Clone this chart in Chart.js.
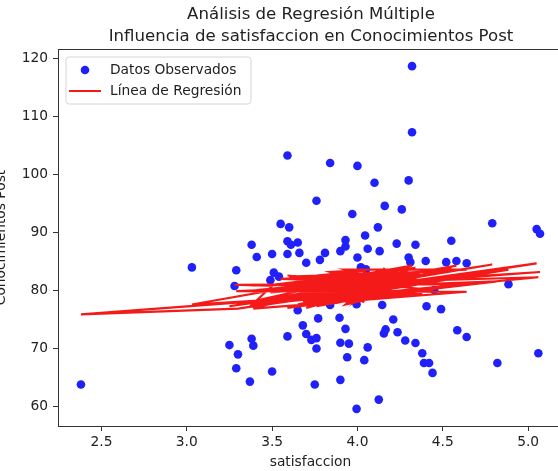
<!DOCTYPE html>
<html><head><meta charset="utf-8">
<script src="https://cdn.jsdelivr.net/npm/chart.js@4.4.1/dist/chart.umd.min.js"></script>
<style>
html,body{margin:0;padding:0;background:#fff;overflow:hidden;}
#wrap{position:relative;width:558px;height:471px;overflow:hidden;background:#fff;}
#c{position:absolute;left:-7px;top:0;}
</style></head><body>
<div id="wrap"><canvas id="c" width="636" height="471"></canvas></div>
<script>
// Data (in original data order)
const satisfaccion = [3.59,4.44,3.03,4.32,3.29,4.58,3.25,5.05,3.30,2.38,4.05,4.885,3.37,4.30,3.39,4.64,3.29,4.82,3.65,4.45,3.54,5.06,3.38,4.42,3.28,3.50,3.38,4.79,3.51,4.52,3.41,5.07,3.49,4.34,3.50,4.585,3.55,4.64,3.93,4.34,3.76,4.55,3.59,4.49,3.75,4.405,3.70,4.32,3.76,4.40,3.68,4.39,3.73,4.38,3.61,4.31,3.60,4.30,3.70,4.155,3.66,4.125,3.65,4.26,3.59,4.145,3.59,4.23,3.995,4.16,3.95,4.28,3.93,4.13,3.90,4.21,3.84,4.00,3.77,4.235,3.90,4.18,3.76,4.045,3.94,4.12,3.81,4.165,3.84,4.10,3.78,4.04,3.895,4.06,3.93,4.06,3.87,3.995,3.90,3.97,4.00,4.02];
const conocimientosPost = [103.3,65.8,84.0,118.7,66.6,85.1,70.6,90.6,69.0,63.8,83.65,81.1,64.3,99.0,70.5,72.0,83.5,67.5,76.6,80.1,82.4,69.2,87.9,67.5,80.8,66.05,71.7,91.6,83.1,84.9,85.8,89.8,81.8,87.9,86.3,73.15,91.5,84.7,88.7,70.95,71.8,88.6,72.1,76.8,63.8,77.3,72.5,107.3,70.0,85.1,74.0,67.5,71.5,69.2,87.9,84.9,90.9,85.7,84.8,72.6,86.5,61.2,88.3,94.0,86.3,77.5,88.5,88.1,59.6,94.6,70.85,71.4,73.4,86.8,64.6,75.0,102.0,101.5,75.2,72.8,71.0,82.95,95.5,89.5,68.5,90.9,86.5,73.3,77.5,98.6,85.3,68.0,75.3,87.2,87.6,70.2,82.6,77.65,86.8,93.2,85.7,84.0];
const prediccion = [82.6,80.1,77.6,84.3,77.5,84.3,77.3,84.7,76.9,75.9,79.6,83.6,77.2,84.2,76.9,79.8,79.9,81.6,77.6,83.2,78.0,82.3,80.9,81.2,81.0,80.8,77.5,84.5,78.6,83.2,80.1,83.2,79.7,83.9,81.0,81.1,82.0,83.6,83.6,80.3,77.3,84.0,77.0,80.6,77.6,82.8,77.0,83.8,77.9,82.0,78.2,79.9,78.7,79.4,80.6,83.1,82.4,82.1,79.2,80.6,81.4,79.0,82.1,82.9,80.3,82.0,81.3,83.6,78.4,83.9,77.8,79.9,77.6,82.8,78.0,79.9,83.2,83.5,79.2,79.0,79.0,81.9,82.6,83.4,79.3,82.6,80.9,79.5,81.4,83.0,81.8,78.0,80.5,81.0,81.0,78.8,81.2,79.7,82.8,82.8,82.2,81.6];
const xTicks = [2.5, 3.0, 3.5, 4.0, 4.5, 5.0];
const yTicks = [60, 70, 80, 90, 100, 110, 120];
const titulo = ['Análisis de Regresión Múltiple', 'Influencia de satisfaccion en Conocimientos Post'];
const etiquetaX = 'satisfaccion';
const etiquetaY = 'Conocimientos Post';
const nombres = ['Datos Observados', 'Línea de Regresión'];

const FONT = "'DejaVu Sans', sans-serif";
Chart.defaults.font.family = FONT;
const BLUE = 'rgb(32,32,250)';
const RED = 'rgb(244,26,26)';
const TXT = '#222';

const puntos = satisfaccion.map((x, i) => ({x: x, y: conocimientosPost[i]}));
const linea = satisfaccion.map((x, i) => ({x: x, y: prediccion[i]}));

const xMin = Math.min(...satisfaccion), xMax = Math.max(...satisfaccion);
const yMin = Math.min(...conocimientosPost), yMax = Math.max(...conocimientosPost);
const xm = (xMax - xMin) * 0.05, ym = (yMax - yMin) * 0.05;

const spines = {
  id: 'spines',
  afterDraw(chart) {
    const ctx = chart.ctx, a = chart.chartArea;
    ctx.save();
    ctx.strokeStyle = '#333';
    ctx.lineWidth = 1;
    ctx.beginPath();
    const t = Math.round(a.top) + 0.5;
    ctx.moveTo(a.left, t); ctx.lineTo(a.right, t);
    const r = Math.round(a.right) + 0.5;
    ctx.moveTo(r, a.top); ctx.lineTo(r, a.bottom);
    ctx.stroke();
    ctx.restore();
  }
};

const legendBox = {
  id: 'legendBox',
  afterDraw(chart) {
    const ctx = chart.ctx, a = chart.chartArea;
    const ds = chart.data.datasets;
    const x = a.left + 8, y = a.top + 8, w = 185, h = 47, r = 3;
    ctx.save();
    ctx.beginPath();
    ctx.moveTo(x + r, y);
    ctx.lineTo(x + w - r, y); ctx.quadraticCurveTo(x + w, y, x + w, y + r);
    ctx.lineTo(x + w, y + h - r); ctx.quadraticCurveTo(x + w, y + h, x + w - r, y + h);
    ctx.lineTo(x + r, y + h); ctx.quadraticCurveTo(x, y + h, x, y + h - r);
    ctx.lineTo(x, y + r); ctx.quadraticCurveTo(x, y, x + r, y);
    ctx.closePath();
    ctx.fillStyle = 'rgba(255,255,255,0.85)';
    ctx.fill();
    ctx.strokeStyle = '#d6d6d6';
    ctx.lineWidth = 1;
    ctx.stroke();
    const sc = ds.find(d => d.type === 'scatter');
    const ln = ds.find(d => d.type === 'line');
    ctx.fillStyle = sc.backgroundColor;
    ctx.beginPath();
    ctx.arc(x + 19, y + 13, 4.3, 0, Math.PI * 2);
    ctx.fill();
    ctx.strokeStyle = ln.borderColor;
    ctx.lineWidth = 2;
    ctx.beginPath();
    ctx.moveTo(x + 3, y + 34); ctx.lineTo(x + 35, y + 34);
    ctx.stroke();
    ctx.fillStyle = TXT;
    ctx.font = '13.8px ' + FONT;
    ctx.textBaseline = 'middle';
    ctx.textAlign = 'left';
    ctx.fillText(sc.label, x + 44, y + 13);
    ctx.fillText(ln.label, x + 44, y + 34);
    ctx.restore();
  }
};

new Chart(document.getElementById('c'), {
  data: {
    datasets: [
      {
        type: 'line', label: nombres[1], data: linea, order: 0,
        borderColor: RED, borderWidth: 2.2, pointRadius: 0, fill: false,
        tension: 0, showLine: true, xAxisID: 'x', yAxisID: 'y'
      },
      {
        type: 'scatter', label: nombres[0], data: puntos, order: 1,
        backgroundColor: BLUE, borderWidth: 0, pointRadius: 4.3,
        xAxisID: 'x', yAxisID: 'y'
      }
    ]
  },
  options: {
    responsive: false,
    animation: false,
    devicePixelRatio: 1,
    events: [],
    layout: { padding: 0 },
    plugins: {
      legend: { display: false },
      tooltip: { enabled: false },
      title: {
        display: true, text: titulo, color: TXT,
        font: { size: 16.6, weight: 'normal', lineHeight: 1.32 },
        padding: { top: 4, bottom: 1.2 }
      }
    },
    scales: {
      x: {
        type: 'linear', position: 'bottom',
        min: xMin - xm, max: xMax + xm,
        afterBuildTicks: s => { s.ticks = xTicks.map(v => ({value: v})); },
        afterFit: s => { s.height = 45; },
        ticks: { color: TXT, font: { size: 13.8 }, padding: 3, maxRotation: 0,
                 callback: v => Number(v).toFixed(1) },
        grid: { display: true, drawOnChartArea: false, drawTicks: true, tickLength: 5, color: '#333' },
        border: { display: true, color: '#333', width: 1 },
        title: { display: true, text: etiquetaX, color: TXT, font: { size: 13.8 }, padding: { top: 0, bottom: 0 } }
      },
      y: {
        type: 'linear', position: 'left',
        min: yMin - ym, max: yMax + ym,
        afterBuildTicks: s => { s.ticks = yTicks.map(v => ({value: v})); },
        afterFit: s => { s.width = 65; },
        ticks: { color: TXT, font: { size: 13.8 }, padding: 5, callback: v => String(v) },
        grid: { display: true, drawOnChartArea: false, drawTicks: true, tickLength: 5, color: '#333' },
        border: { display: true, color: '#333', width: 1 },
        title: { display: true, text: etiquetaY, color: TXT, font: { size: 13.8 }, padding: { top: 0, bottom: 0 } }
      },
      yR: {
        type: 'linear', position: 'right', display: true,
        afterFit: s => { s.width = 66; },
        ticks: { display: false },
        grid: { display: false, drawTicks: false },
        border: { display: false }
      }
    }
  },
  plugins: [spines, legendBox]
});
</script>
</body></html>
